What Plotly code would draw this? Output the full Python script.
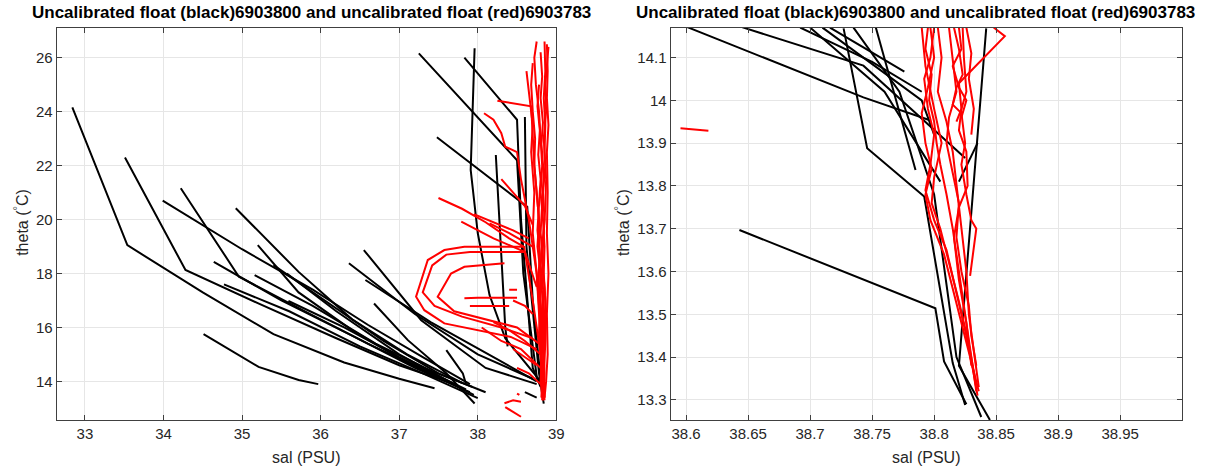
import plotly.graph_objects as go

# ---------------- DATA (sal, theta) profiles ----------------
# Left panel: uncalibrated float 6903800 (black)
left_black = [
    [(32.84, 24.16), (33.54, 19.05), (34.5, 17.3), (35.4, 15.75), (36.3, 14.7), (37.0, 14.1), (37.45, 13.75)],
    [(33.51, 22.3), (34.28, 18.13), (35.2, 16.9), (36.2, 15.6), (37.0, 14.6), (37.7, 13.9)],
    [(33.99, 20.7), (35.0, 18.9), (35.9, 17.4), (36.6, 16.1), (37.3, 14.9), (37.9, 13.9)],
    [(34.22, 21.16), (34.96, 17.88), (35.8, 16.6), (36.6, 15.4), (37.4, 14.3), (37.95, 13.5)],
    [(34.92, 20.42), (35.72, 18.06), (36.4, 16.3), (37.1, 15.0), (37.8, 13.95)],
    [(34.51, 15.75), (35.21, 14.54), (35.72, 14.05), (35.97, 13.9)],
    [(34.64, 18.43), (35.5, 17.0), (36.4, 15.7), (37.2, 14.5), (37.9, 13.6)],
    [(34.77, 17.6), (35.6, 16.6), (36.5, 15.3), (37.3, 14.3), (38.0, 13.38)],
    [(35.16, 17.94), (35.9, 16.8), (36.7, 15.4), (37.4, 14.4), (37.93, 13.8)],
    [(35.2, 19.05), (35.72, 17.3), (36.4, 15.9), (37.1, 14.7), (37.6, 14.0)],
    [(35.4, 18.31), (36.0, 17.1), (36.8, 15.5), (37.5, 14.3), (38.1, 13.6)],
    [(35.57, 18.0), (36.2, 16.6), (37.0, 15.0), (37.7, 13.9)],
    [(35.59, 16.98), (36.3, 16.0), (37.0, 14.9), (37.85, 13.7)],
    [(37.25, 26.16), (38.5, 22.2), (38.58, 18.0), (38.75, 14.2)],
    [(37.83, 26.0), (38.5, 23.7), (38.55, 20.0), (38.7, 14.5), (38.8, 13.8)],
    [(37.96, 26.35), (37.91, 21.84), (38.0, 19.5), (38.15, 17.2), (38.35, 15.6), (38.8, 14.0)],
    [(37.48, 23.05), (38.63, 20.47), (38.7, 17.0), (38.8, 14.1)],
    [(38.23, 22.39), (38.3, 18.5), (38.35, 16.0), (38.38, 15.3)],
    [(36.55, 18.87), (37.28, 16.27), (38.1, 14.5), (38.75, 13.9)],
    [(36.36, 18.38), (37.2, 16.5), (38.0, 15.0), (38.7, 14.1)],
    [(36.57, 17.76), (37.4, 16.2), (38.2, 14.9), (38.75, 14.0)],
    [(36.68, 16.89), (37.11, 15.53), (37.6, 14.3), (37.96, 13.18)],
    [(37.6, 15.16), (37.81, 14.3), (37.85, 13.9)],
    [(38.6, 13.6), (38.75, 13.4)],
    [(38.6, 23.8), (38.62, 19.0), (38.78, 14.3), (38.84, 13.18)],
]

# Left panel: uncalibrated float 6903783 (red)
left_red = [
    [(38.75, 26.6), (38.72, 26.0), (38.74, 25.0), (38.78, 24.0), (38.8, 23.0), (38.82, 22.0), (38.8, 21.0), (38.83, 20.0), (38.85, 19.0), (38.84, 18.0), (38.86, 17.0), (38.85, 16.0), (38.84, 15.0), (38.83, 14.0), (38.82, 13.3)],
    [(38.85, 26.6), (38.86, 25.5), (38.84, 24.5), (38.86, 23.5), (38.85, 22.5), (38.87, 21.5), (38.86, 20.5), (38.84, 19.5), (38.82, 18.5), (38.85, 17.5), (38.87, 16.5), (38.86, 15.5), (38.85, 14.5), (38.84, 13.6), (38.83, 13.3)],
    [(38.88, 26.5), (38.89, 25.5), (38.88, 24.5), (38.9, 23.5), (38.88, 22.5), (38.89, 21.0), (38.88, 19.5), (38.9, 18.0), (38.88, 16.5), (38.89, 15.0), (38.87, 14.0), (38.85, 13.4)],
    [(38.7, 25.8), (38.68, 25.0), (38.7, 24.0), (38.73, 23.0), (38.72, 22.0), (38.75, 21.0), (38.78, 20.0), (38.76, 19.0), (38.8, 18.0), (38.79, 17.0), (38.82, 16.0), (38.8, 15.0), (38.82, 14.0), (38.81, 13.4)],
    [(38.8, 26.2), (38.82, 25.3), (38.8, 24.5), (38.83, 23.6), (38.81, 22.8), (38.84, 21.7), (38.82, 20.6), (38.8, 19.5), (38.83, 18.6), (38.81, 17.6), (38.84, 16.5), (38.83, 15.4), (38.85, 14.3), (38.84, 13.5)],
    [(38.9, 26.4), (38.88, 25.8), (38.86, 25.0), (38.87, 24.0), (38.84, 23.0), (38.86, 22.0), (38.83, 21.0), (38.85, 20.0), (38.82, 19.0), (38.8, 18.3), (38.84, 17.2), (38.82, 16.2), (38.84, 15.2), (38.83, 14.2), (38.85, 13.3)],
    [(38.78, 25.0), (38.76, 24.2), (38.79, 23.3), (38.77, 22.4), (38.8, 21.5), (38.78, 20.5), (38.76, 19.6), (38.79, 18.7), (38.77, 17.8), (38.8, 16.8), (38.78, 15.8), (38.81, 14.8), (38.8, 14.0), (38.82, 13.5)],
    [(38.62, 25.5), (38.65, 24.8), (38.7, 23.5), (38.68, 22.5), (38.72, 21.0), (38.7, 19.5), (38.75, 18.0), (38.78, 16.5), (38.8, 15.0), (38.82, 13.8)],
    [(38.08, 23.94), (38.2, 23.7), (38.3, 23.2), (38.35, 22.7), (38.5, 22.5), (38.55, 21.5), (38.65, 20.0), (38.75, 18.0), (38.8, 16.0), (38.82, 14.0), (38.83, 13.3)],
    [(38.25, 24.4), (38.5, 24.3), (38.68, 24.2), (38.72, 22.0), (38.78, 20.0), (38.8, 17.0), (38.84, 14.5)],
    [(37.5, 20.8), (37.8, 20.4), (38.1, 19.9), (38.4, 19.3), (38.59, 18.99), (38.7, 17.0), (38.8, 15.0), (38.85, 13.4)],
    [(37.79, 19.92), (38.2, 19.3), (38.6, 18.8), (38.75, 17.5)],
    [(38.15, 19.86), (38.4, 19.5), (38.7, 19.0)],
    [(38.3, 21.5), (38.45, 21.0), (38.6, 20.5), (38.7, 19.8)],
    [(37.95, 20.2), (38.2, 19.9), (38.45, 19.6), (38.65, 19.3)],
    [(38.59, 18.99), (37.829, 18.99), (37.575, 18.87), (37.364, 18.5), (37.215, 17.14), (37.32, 16.64), (37.575, 16.15), (37.997, 15.9), (38.42, 15.65), (38.75, 15.2)],
    [(38.6, 18.8), (37.9, 18.8), (37.6, 18.7), (37.42, 18.3), (37.3, 17.3), (37.45, 16.8), (37.8, 16.4), (38.3, 16.0), (38.7, 15.6)],
    [(38.34, 18.38), (37.83, 18.25), (37.66, 18.0), (37.49, 17.14), (37.7, 16.6), (38.1, 16.3), (38.5, 16.0), (38.78, 15.4)],
    [(37.83, 17.08), (38.0, 17.1), (38.5, 17.1)],
    [(37.9, 16.8), (38.4, 16.8)],
    [(38.4, 17.4), (38.5, 17.4)],
    [(38.45, 17.0), (38.6, 16.8), (38.7, 16.5)],
    [(38.2, 16.2), (38.4, 15.9), (38.6, 15.5), (38.8, 15.0)],
    [(38.45, 15.2), (38.6, 14.9), (38.75, 14.6)],
    [(38.05, 16.0), (38.3, 15.5), (38.55, 15.2), (38.8, 14.5)],
    [(38.5, 14.5), (38.65, 14.3), (38.8, 13.9)],
    [(38.34, 13.19), (38.45, 13.3), (38.55, 13.25)],
    [(38.35, 13.05), (38.55, 12.69)],
    [(38.5, 13.55), (38.53, 13.5)],
]

# Right panel (zoom): float 6903800 (black)
right_black = [
    [(38.601, 14.171), (38.743, 14.007), (38.796, 13.954)],
    [(38.645, 14.171), (38.743, 14.081), (38.825, 13.865)],
    [(38.727, 14.168), (38.746, 13.888), (38.792, 13.775), (38.815, 13.386), (38.825, 13.288)],
    [(38.643, 13.697), (38.743, 13.58), (38.801, 13.514), (38.808, 13.39), (38.826, 13.29)],
    [(38.842, 14.168), (38.82, 13.38), (38.845, 13.253)],
    [(38.753, 14.17), (38.785, 13.837)],
    [(38.70, 14.17), (38.76, 14.02), (38.805, 13.81)],
    [(38.71, 14.17), (38.79, 14.0), (38.80, 13.92)],
    [(38.716, 14.17), (38.776, 14.067)],
    [(38.835, 13.9), (38.82, 13.81)],
    [(38.735, 14.17), (38.772, 14.02), (38.80, 13.78), (38.818, 13.40), (38.838, 13.26)],
    [(38.692, 14.17), (38.75, 14.09), (38.79, 14.02)],
]

# Right panel (zoom): float 6903783 (red)
right_red = [
    [(38.795, 14.17), (38.793, 14.12), (38.798, 14.06), (38.796, 14.0), (38.800, 13.95), (38.802, 13.9), (38.805, 13.85), (38.81, 13.78), (38.815, 13.7), (38.82, 13.6), (38.825, 13.5), (38.83, 13.4), (38.834, 13.32)],
    [(38.80, 14.17), (38.797, 14.1), (38.792, 14.05), (38.795, 13.98), (38.80, 13.92), (38.797, 13.85), (38.793, 13.79), (38.80, 13.72), (38.81, 13.65), (38.818, 13.55), (38.826, 13.45), (38.832, 13.36), (38.835, 13.31)],
    [(38.797, 14.17), (38.80, 14.1), (38.795, 14.03), (38.79, 13.97), (38.793, 13.9), (38.798, 13.84), (38.793, 13.78), (38.797, 13.72), (38.808, 13.64), (38.815, 13.56), (38.822, 13.48), (38.83, 13.39), (38.836, 13.32)],
    [(38.803, 14.17), (38.806, 14.1), (38.803, 14.02), (38.81, 13.95), (38.815, 13.88), (38.818, 13.8), (38.822, 13.7), (38.826, 13.6), (38.828, 13.5), (38.833, 13.4), (38.836, 13.33)],
    [(38.812, 14.17), (38.815, 14.1), (38.818, 14.02), (38.812, 13.96), (38.81, 13.9), (38.815, 13.83), (38.82, 13.76), (38.818, 13.68), (38.822, 13.6), (38.828, 13.52), (38.83, 13.45), (38.834, 13.38)],
    [(38.816, 14.17), (38.82, 14.12), (38.823, 14.06), (38.818, 14.03), (38.815, 13.99), (38.822, 13.97), (38.825, 13.9), (38.822, 13.85), (38.826, 13.78), (38.83, 13.72), (38.834, 13.7), (38.83, 13.62), (38.829, 13.59)],
    [(38.823, 14.17), (38.824, 14.1), (38.826, 14.02), (38.822, 13.98), (38.82, 13.93), (38.826, 13.88), (38.827, 13.8), (38.82, 13.75), (38.816, 13.68), (38.82, 13.58), (38.826, 13.48), (38.83, 13.38)],
    [(38.848, 14.17), (38.857, 14.15), (38.82, 14.04), (38.822, 13.98), (38.818, 13.95)],
    [(38.79, 14.17), (38.793, 14.08), (38.80, 13.98), (38.806, 13.9), (38.80, 13.82), (38.798, 13.76), (38.805, 13.7), (38.812, 13.62), (38.82, 13.53), (38.828, 13.43), (38.833, 13.35)],
    [(38.82, 14.17), (38.822, 14.12), (38.815, 14.08), (38.82, 14.03), (38.826, 14.0), (38.822, 13.96)],
    [(38.826, 14.17), (38.83, 14.11), (38.828, 14.05), (38.832, 13.98), (38.83, 13.92)],
    [(38.5955, 13.935), (38.605, 13.932), (38.618, 13.929)],
]

left_xticks = [33, 34, 35, 36, 37, 38, 39]
left_yticks = [14, 16, 18, 20, 22, 24, 26]
right_xticks = [38.6, 38.65, 38.7, 38.75, 38.8, 38.85, 38.9, 38.95]
right_yticks = [13.3, 13.4, 13.5, 13.6, 13.7, 13.8, 13.9, 14.0, 14.1]
title_text = "Uncalibrated float (black)6903800 and uncalibrated float (red)6903783"

# ---------------- FIGURE ----------------
W, H = 1218, 470
fig = go.Figure()

def add_profiles(profiles, color, xa, ya):
    for prof in profiles:
        fig.add_trace(go.Scatter(
            x=[p[0] for p in prof], y=[p[1] for p in prof],
            mode="lines", line=dict(color=color, width=2),
            xaxis=xa, yaxis=ya, showlegend=False, hoverinfo="x+y"))

add_profiles(left_black, "black", "x", "y")
add_profiles(left_red, "#ff0000", "x", "y")
add_profiles(right_black, "black", "x2", "y2")
add_profiles(right_red, "#ff0000", "x2", "y2")

def px(xp):
    return xp / W

def py(yp):
    return 1 - yp / H

L1, R1 = 57, 560
L2, R2 = 675, 1190
T0, B0 = 28, 420

axis_common = dict(
    showline=True, linecolor="#404040", linewidth=1, mirror="ticks",
    ticks="inside", ticklen=5, tickcolor="#404040",
    showgrid=True, gridcolor="#e6e6e6", gridwidth=1, zeroline=False,
    tickfont=dict(family="Liberation Sans, Arial", size=15, color="#262626"),
)

fig.update_layout(
    width=W, height=H, margin=dict(l=0, r=0, t=0, b=0),
    paper_bgcolor="white", plot_bgcolor="white",
    xaxis=dict(domain=[px(L1), px(R1)], range=[32.64, 39.0], anchor="y",
               tickvals=left_xticks, ticktext=[str(v) for v in left_xticks], **axis_common),
    yaxis=dict(domain=[py(B0), py(T0)], range=[12.57, 27.1], anchor="x",
               tickvals=left_yticks, ticktext=[str(v) for v in left_yticks], **axis_common),
    xaxis2=dict(domain=[px(L2), px(R2)], range=[38.5875, 39.0], anchor="y2",
                tickvals=right_xticks, ticktext=[f"{v:g}" for v in right_xticks], **axis_common),
    yaxis2=dict(domain=[py(B0), py(T0)], range=[13.253, 14.169], anchor="x2",
                tickvals=right_yticks, ticktext=[f"{v:g}" for v in right_yticks], **axis_common),
)

font_txt = dict(family="Liberation Sans, Arial", color="#262626")
anns = []
for (l, r), tx in [((L1, R1), 314), ((L2, R2), 922)]:
    cx = px((l + r) / 2)
    anns.append(dict(text="<b>" + title_text + "</b>", x=px(tx), y=py(12), xref="paper", yref="paper",
                     showarrow=False, xanchor="center", yanchor="middle",
                     font=dict(size=17, color="black", family="Liberation Sans, Arial")))
    anns.append(dict(text="sal (PSU)", x=cx, y=py(457), xref="paper", yref="paper",
                     showarrow=False, xanchor="center", yanchor="middle", font=dict(size=16, **font_txt)))
for xl in (21, 626):
    anns.append(dict(text="theta (<sup>°</sup>C)", x=px(xl), y=py(222), xref="paper", yref="paper",
                     showarrow=False, textangle=-90, xanchor="center", yanchor="middle", font=dict(size=16, **font_txt)))
fig.update_layout(annotations=anns)

fig.write_html("out.html", config={"displayModeBar": False},
               post_script="document.body.style.margin='0px';document.body.style.padding='0px';")
